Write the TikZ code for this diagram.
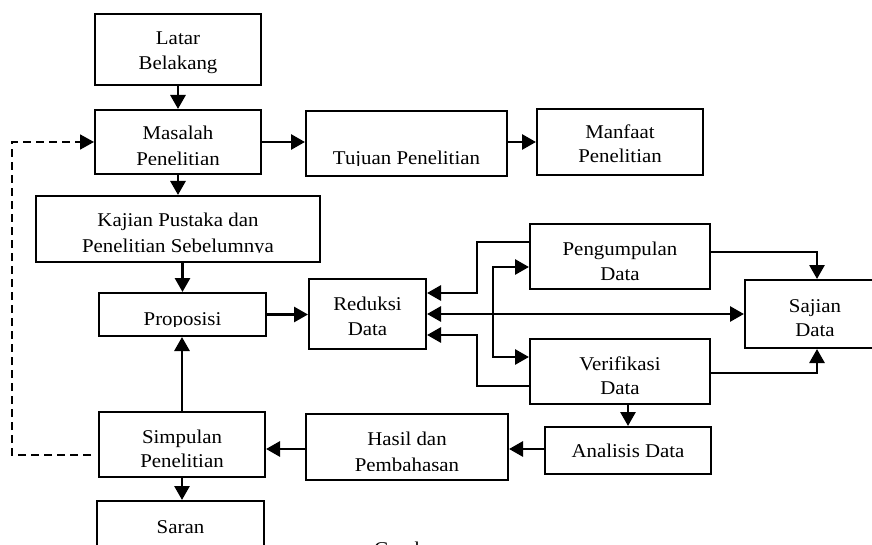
\documentclass[tikz,border=0pt]{standalone}
\usepackage{fontspec}
\setmainfont{Liberation Serif}[FakeStretch=1.07]
\usetikzlibrary{arrows.meta}
\begin{document}
\begin{tikzpicture}[x=1pt,y=-1pt,
  box/.style={draw, line width=2pt, inner sep=0pt},
  txt/.style={inner sep=0pt, anchor=base, font=\fontsize{19.5}{24}\selectfont},
  conn/.style={line width=2.8pt, -{Triangle[length=14pt,width=15pt]}},
  dconn/.style={line width=2.8pt, {Triangle[length=14pt,width=15pt]}-{Triangle[length=14pt,width=15pt]}},
  dashconn/.style={line width=1.8pt, dash pattern=on 8pt off 5pt, -{Triangle[length=14pt,width=15pt]}}]
\useasboundingbox (0,0) rectangle (872,545);
\clip (0,0) rectangle (872,545);
\fill[white] (0,0) rectangle (872,545);
\newcommand\lbl[4]{\node[txt] (#1) at (#2,#3) {#4};}
% boxes
\node[box, minimum width=166pt, minimum height=71pt] (latar) at (178,49.5) {};
\node[box, minimum width=166pt, minimum height=64pt] (masalah) at (178,142) {};
\node[box, minimum width=201pt, minimum height=65pt] (tujuan) at (406.5,143.5) {};
\node[box, minimum width=166pt, minimum height=66pt] (manfaat) at (620,142) {};
\node[box, minimum width=284pt, minimum height=66pt] (kajian) at (178,229) {};
\node[box, minimum width=167pt, minimum height=43pt] (proposisi) at (182.5,314.5) {};
\node[box, minimum width=117pt, minimum height=70pt] (reduksi) at (367.5,314) {};
\node[box, minimum width=180pt, minimum height=65pt] (pengumpulan) at (620,256.5) {};
\node[box, minimum width=140pt, minimum height=68pt] (sajian) at (815,314) {};
\node[box, minimum width=180pt, minimum height=65pt] (verifikasi) at (620,371.5) {};
\node[box, minimum width=166pt, minimum height=47pt] (analisis) at (628,450.5) {};
\node[box, minimum width=202pt, minimum height=66pt] (hasil) at (407,447) {};
\node[box, minimum width=166pt, minimum height=65pt] (simpulan) at (182,444.5) {};
\node[box, minimum width=167pt, minimum height=58pt] (saran) at (180.5,530) {};
% labels
\lbl{tLatar1}{178}{45}{Latar}
\lbl{tLatar2}{178}{70}{Belakang}
\lbl{tMasalah1}{178}{140}{Masalah}
\begin{scope}
\clip (95,150) rectangle (261,165);
\lbl{tMasalah2}{178}{166}{Penelitian}
\end{scope}
\begin{scope}
\clip (306,145) rectangle (507,166);
\lbl{tTujuan}{406.5}{165}{Tujuan Penelitian}
\end{scope}
\lbl{tManfaat1}{620}{139}{Manfaat}
\lbl{tManfaat2}{620}{163}{Penelitian}
\lbl{tKajian1}{178}{227}{Kajian Pustaka dan}
\begin{scope}
\clip (36,235) rectangle (320,253);
\lbl{tKajian2}{178}{252}{Penelitian Sebelumnya}
\end{scope}
\begin{scope}
\clip (99,300) rectangle (266,326);
\lbl{tProposisi}{182.5}{325}{Proposisi}
\end{scope}
\lbl{tReduksi1}{367.5}{310}{Reduksi}
\lbl{tReduksi2}{367.5}{335}{Data}
\lbl{tPeng1}{620}{255}{Pengumpulan}
\lbl{tPeng2}{620}{280}{Data}
\lbl{tSajian1}{815}{312}{Sajian}
\lbl{tSajian2}{815}{336}{Data}
\lbl{tVer1}{620}{370}{Verifikasi}
\lbl{tVer2}{620}{394}{Data}
\lbl{tAnalisis}{628}{457}{Analisis Data}
\lbl{tHasil1}{407}{445}{Hasil dan}
\begin{scope}
\clip (306,450) rectangle (508,470);
\lbl{tHasil2}{407}{471}{Pembahasan}
\end{scope}
\lbl{tSimp1}{182}{443}{Simpulan}
\lbl{tSimp2}{182}{467}{Penelitian}
\lbl{tSaran}{180.5}{533}{Saran}
\node[txt, anchor=base west] (tGambar) at (374,555) {Gambar};
% connectors
\draw[conn] (latar.south) -- (masalah.north);
\draw[conn] (masalah.east) -- (masalah.east -| tujuan.west);
\draw[conn] (tujuan.east |- manfaat.west) -- (manfaat.west);
\draw[conn] (masalah.south) -- (kajian.north);
\draw[conn] (proposisi.north |- kajian.south) -- (proposisi.north);
\draw[conn] (proposisi.east) -- (proposisi.east -| reduksi.west);
\draw[conn] (simpulan.north) -- (simpulan.north |- proposisi.south);
\draw[conn] (simpulan.south) -- (simpulan.south |- saran.north);
\draw[conn] ([yshift=-2pt]hasil.west) -- ([yshift=-2pt]hasil.west -| simpulan.east);
\draw[conn] ([yshift=1.5pt]analisis.west) -- ([yshift=1.5pt]analisis.west -| hasil.east);
\draw[conn] (analisis.north |- verifikasi.south) -- (analisis.north);
\draw[conn] ([yshift=14.5pt]pengumpulan.west) -- ++(-52,0) |- ([yshift=21pt]reduksi.east);
\draw[dconn] (reduksi.east) -- (sajian.west);
\draw[conn] ([yshift=-14.5pt]verifikasi.west) -- ++(-52,0) |- ([yshift=-21pt]reduksi.east);
\draw[dconn] ([yshift=-10.5pt]pengumpulan.west) -- ++(-36,0) |- ([yshift=14.5pt]verifikasi.west);
\draw[conn] ([yshift=4.5pt]pengumpulan.east) -| ([xshift=2pt]sajian.north);
\draw[conn] ([yshift=-1.5pt]verifikasi.east) -| ([xshift=2pt]sajian.south);
\draw[dashconn] ([xshift=-7pt,yshift=-10.5pt]simpulan.west) -- (12,455) |- (masalah.west);
\end{tikzpicture}
\end{document}
